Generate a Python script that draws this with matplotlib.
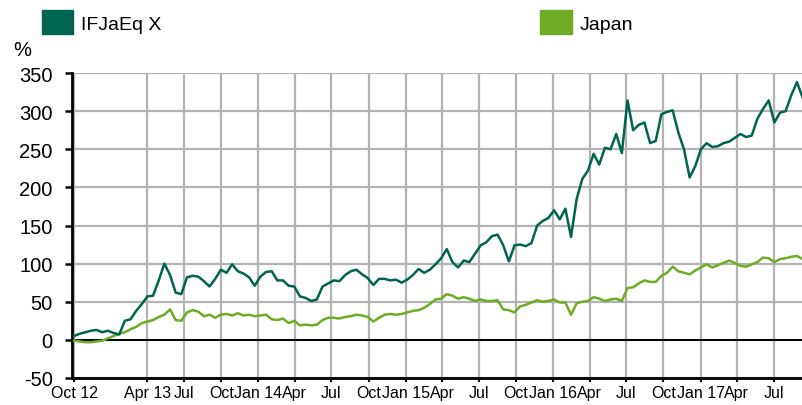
import matplotlib
matplotlib.use('Agg')
import matplotlib.pyplot as plt
from matplotlib.patches import Patch
import pandas as pd

plt.rcParams['font.family'] = ['Liberation Sans', 'DejaVu Sans']
plt.rcParams['axes.unicode_minus'] = False

# fortnightly cumulative returns (%), from 1 Oct 2012
start = '2012-10-01'
fund = [5, 8, 10, 12, 13, 10, 12, 9, 7, 25, 27, 38, 47, 57, 58, 78, 100, 85, 62, 60, 82, 84, 83, 77,
        70, 80, 92, 88, 99, 90, 87, 82, 71, 83, 89, 90, 78, 78, 71, 70, 57, 55, 51, 53, 70, 74, 78,
        77, 85, 90, 92, 86, 81, 72, 80, 80, 78, 79, 75, 79, 85, 93, 88, 92, 99, 107, 119, 102, 95, 104,
        102, 113, 124, 128, 136, 138, 124, 103, 124, 125, 123, 127, 150, 156, 160, 170, 158, 172, 135, 185, 211, 222, 244,
        230, 252, 250, 270, 245, 314, 275, 282, 285, 258, 261, 296, 299, 301, 272, 250, 213, 228,
        250, 258, 253, 254, 258, 260, 265, 270, 266, 268, 290, 303, 314, 285, 298, 300, 321, 338, 318]
japan = [-1, -2, -3, -3, -2, -1, 2, 5, 8, 10, 14, 17, 22, 24, 26, 30, 33, 40, 26, 25, 36, 39, 37, 31,
         33, 29, 33, 34, 32, 35, 32, 33, 31, 32, 33, 27, 26, 28, 22, 25, 19, 20, 19, 20, 26, 29, 29,
         28, 30, 31, 33, 32, 30, 24, 29, 33, 34, 33, 34, 36, 38, 39, 42, 47, 53, 54, 60, 58, 54, 56,
         54, 51, 53, 51, 51, 52, 40, 39, 36, 44, 46, 49, 52, 50, 51, 53, 49, 49, 33, 48, 50, 51, 56,
         54, 51, 53, 54, 51, 68, 69, 74, 78, 76, 76, 84, 88, 96, 90, 88, 86, 91,
         95, 99, 95, 98, 101, 104, 101, 97, 96, 99, 102, 108, 107, 102, 106, 107, 109, 110, 106]
names = ['IFJaEq X', 'Japan']
colors = ['#006550', '#6fac25']

tick_dates = ['2012-10-01', '2013-04-01', '2013-07-01', '2013-10-01', '2014-01-01', '2014-04-01',
              '2014-07-01', '2014-10-01', '2015-01-01', '2015-04-01', '2015-07-01', '2015-10-01',
              '2016-01-01', '2016-04-01', '2016-07-01', '2016-10-01', '2017-01-01', '2017-04-01',
              '2017-07-01']
tick_labels = ['Oct 12', 'Apr 13', 'Jul', 'Oct', 'Jan 14', 'Apr', 'Jul', 'Oct', 'Jan 15', 'Apr',
               'Jul', 'Oct', 'Jan 16', 'Apr', 'Jul', 'Oct', 'Jan 17', 'Apr', 'Jul']

dates = pd.date_range(start, periods=len(fund), freq='14D')

fig = plt.figure(figsize=(8.03, 4.06), dpi=100)
ax = fig.add_axes([72 / 803, 1 - 379 / 406, 731 / 803, 305 / 406])

ax.plot(dates, japan, color=colors[1], lw=1.8, zorder=3)
ax.plot(dates, fund, color=colors[0], lw=1.8, zorder=4)
ax.axhline(0, color='black', lw=1.4, zorder=2)

ax.set_xlim(pd.Timestamp('2012-09-26'), pd.Timestamp('2017-09-12'))
ax.set_ylim(-50, 350)
ax.set_yticks(range(-50, 351, 50))
ax.set_xticks(pd.to_datetime(tick_dates))
ax.set_xticklabels(tick_labels)

ax.grid(True, color='#b3b3b3', lw=1.6, zorder=0)
ax.set_axisbelow(True)
for s in ['top', 'right']:
    ax.spines[s].set_visible(False)
ax.spines['left'].set_linewidth(2.0)
ax.spines['bottom'].set_linewidth(2.0)
ax.tick_params(axis='y', labelsize=14.5, length=5, width=1.8, pad=9)
ax.tick_params(axis='x', labelsize=11.5, length=3, width=1.5, pad=2)

fig.text(13 / 803, 1 - 60 / 406, '%', fontsize=14.5, ha='left', va='bottom')

handles = [Patch(color=c) for c in colors]
fig.legend(handles, names, loc='upper left', bbox_to_anchor=(42 / 803, 1 - 11 / 406),
           ncol=2, frameon=False, fontsize=14, handlelength=1.6, handleheight=1.55,
           handletextpad=0.4, columnspacing=19.5, borderpad=0, borderaxespad=0)

fig.savefig('out.png', dpi=100)
